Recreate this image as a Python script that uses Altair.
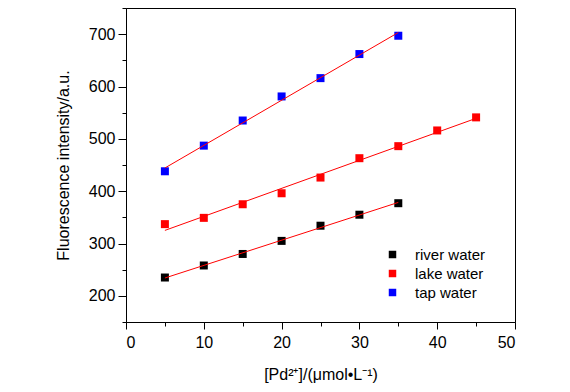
import altair as alt
import pandas as pd

series_names = ["river water", "lake water", "tap water"]
series_colors = ["#000000", "#ff0000", "#0000ff"]

x_river = [5, 10, 15, 20, 25, 30, 35]
y_river = [235, 258, 280, 305, 334, 355, 377]

x_lake = [5, 10, 15, 20, 25, 30, 35, 40, 45]
y_lake = [337, 349, 375, 396, 426, 463, 486, 516, 541]

x_tap = [5, 10, 15, 20, 25, 30, 35]
y_tap = [438, 487, 535, 581, 616, 662, 697]

x_major = [0, 10, 20, 30, 40, 50]
x_minor = [5, 15, 25, 35, 45]
y_major = [200, 300, 400, 500, 600, 700]
y_minor = [150, 250, 350, 450, 550, 650, 750]

rows = []
for name, xs, ys in [("river water", x_river, y_river),
                     ("lake water", x_lake, y_lake),
                     ("tap water", x_tap, y_tap)]:
    for a, b in zip(xs, ys):
        rows.append({"x": a, "y": b, "series": name})
df = pd.DataFrame(rows)

FONT = "Liberation Sans"

x_scale = alt.Scale(domain=[0, 50], nice=False, zero=False)
y_scale = alt.Scale(domain=[150, 750], nice=False, zero=False)

points = alt.Chart(df).mark_square(size=64, opacity=1, strokeWidth=0).encode(
    x=alt.X("x:Q", scale=x_scale, axis=alt.Axis(
        orient="bottom", values=x_major, tickSize=7, grid=False,
        labelPadding=5, labelOverlap=False,
        title="[Pd²⁺]/(μmol•L⁻¹)", titlePadding=16,
    )),
    y=alt.Y("y:Q", scale=y_scale, axis=alt.Axis(
        orient="left", values=y_major, tickSize=8, grid=False,
        labelPadding=3, labelOverlap=False,
        title="Fluorescence intensity/a.u.", titlePadding=17,
    )),
    color=alt.Color(
        "series:N",
        scale=alt.Scale(domain=series_names, range=series_colors),
        sort=series_names,
        legend=alt.Legend(
            title=None,
            orient="none",
            legendX=259,
            legendY=239,
            symbolType="square",
            symbolSize=56,
            symbolStrokeWidth=0,
            symbolOpacity=1,
            labelFontSize=15,
            labelFont=FONT,
            labelOffset=15,
            rowPadding=3,
            padding=0,
        ),
    ),
)

lines = alt.Chart(df).transform_regression(
    "x", "y", groupby=["series"]
).mark_line(color="#ff0000", strokeWidth=1).encode(
    x=alt.X("x:Q", scale=x_scale, axis=alt.Axis(
        orient="bottom", values=x_minor, tickSize=4, grid=False,
        labels=False, domain=False, title=None,
    )),
    y=alt.Y("y:Q", scale=y_scale, axis=alt.Axis(
        orient="left", values=y_minor, tickSize=4, grid=False,
        labels=False, domain=False, title=None,
    )),
    detail="series:N",
)

chart = alt.layer(points, lines).resolve_axis(
    x="independent", y="independent"
).properties(
    width=389,
    height=314,
    autosize=alt.AutoSizeParams(type="none"),
    padding={"left": 118, "top": 0, "right": 40, "bottom": 66},
).configure_view(
    stroke="#000000", strokeWidth=1
).configure_axis(
    domainColor="#000000",
    domainWidth=1,
    tickColor="#000000",
    tickWidth=1,
    labelFont=FONT,
    labelFontSize=16,
    labelColor="#000000",
    titleFont=FONT,
    titleFontSize=16,
    titleFontWeight="normal",
    titleColor="#000000",
).configure_legend(
    labelColor="#000000"
)

chart.save("out.html", embed_options={"renderer": "svg", "actions": False})
